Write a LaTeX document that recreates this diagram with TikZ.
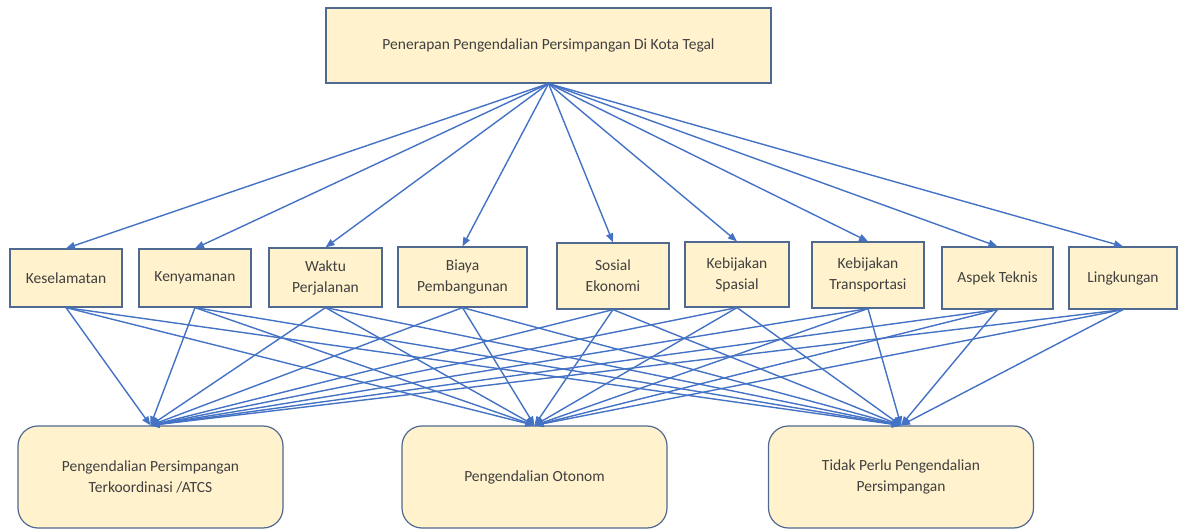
\documentclass[tikz,border=0pt]{standalone}
\usepackage{fontspec}
\setmainfont{Carlito}
\usetikzlibrary{arrows.meta}
\definecolor{boxfill}{RGB}{255,242,204}
\definecolor{boxline}{RGB}{80,105,145}
\definecolor{linkc}{RGB}{68,114,196}
\definecolor{textc}{RGB}{64,64,64}

\begin{document}
\begin{tikzpicture}[x=1pt, y=-1pt,
		kotak/.style={draw=boxline, line width=1.2pt, fill=boxfill, text=textc, align=center, inner sep=0pt, font=\fontsize{15.5}{21}\selectfont},
		alternatif/.style={kotak, rounded corners=20pt, minimum width=265pt, minimum height=102pt},
		panah/.style={-{Triangle[length=9pt, width=7pt]}, color=linkc, line width=1.4pt}]
		\useasboundingbox (0,0) rectangle (1179,529);
		
		\node[kotak, minimum width=445pt, minimum height=75pt] (n0) at (548.5,45.5) {Penerapan Pengendalian Persimpangan Di Kota Tegal};
		
		\node[kotak, minimum width=112pt, minimum height=58pt] (n1) at (66,278) {Keselamatan};
		\node[kotak, minimum width=112pt, minimum height=58pt] (n2) at (195,278) {Kenyamanan};
		\node[kotak, minimum width=113pt, minimum height=59pt] (n3) at (325.5,277.5) {Waktu\\Perjalanan};
		\node[kotak, minimum width=129pt, minimum height=60pt] (n4) at (462.5,277) {Biaya\\Pembangunan};
		\node[kotak, minimum width=112pt, minimum height=66pt] (n5) at (613,276) {Sosial\\Ekonomi};
		\node[kotak, minimum width=104pt, minimum height=65pt] (n6) at (737,274.5) {Kebijakan\\Spasial};
		\node[kotak, minimum width=112pt, minimum height=66pt] (n7) at (868,275) {Kebijakan\\Transportasi};
		\node[kotak, minimum width=111pt, minimum height=62pt] (n8) at (997.5,278) {Aspek Teknis};
		\node[kotak, minimum width=108pt, minimum height=62pt] (n9) at (1123,278) {Lingkungan};
		
		\node[alternatif] (a1) at (150.5,477) {Pengendalian Persimpangan\\Terkoordinasi /ATCS};
		\node[alternatif] (a2) at (534.5,477) {Pengendalian Otonom};
		\node[alternatif] (a3) at (901,477) {Tidak Perlu Pengendalian\\Persimpangan};
		
		\draw[panah] (n0.south) -- (n1.north);
		\draw[panah] (n0.south) -- (n2.north);
		\draw[panah] (n0.south) -- (n3.north);
		\draw[panah] (n0.south) -- (n4.north);
		\draw[panah] (n0.south) -- (n5.north);
		\draw[panah] (n0.south) -- (n6.north);
		\draw[panah] (n0.south) -- (n7.north);
		\draw[panah] (n0.south) -- (n8.north);
		\draw[panah] (n0.south) -- (n9.north);
		
		\draw[panah] (n1.south) -- (a1.north);
		\draw[panah] (n1.south) -- (a2.north);
		\draw[panah] (n1.south) -- (a3.north);
		\draw[panah] (n2.south) -- (a1.north);
		\draw[panah] (n2.south) -- (a2.north);
		\draw[panah] (n2.south) -- (a3.north);
		\draw[panah] (n3.south) -- (a1.north);
		\draw[panah] (n3.south) -- (a2.north);
		\draw[panah] (n3.south) -- (a3.north);
		\draw[panah] (n4.south) -- (a1.north);
		\draw[panah] (n4.south) -- (a2.north);
		\draw[panah] (n4.south) -- (a3.north);
		\draw[panah] (n5.south) -- (a1.north);
		\draw[panah] (n5.south) -- (a2.north);
		\draw[panah] (n5.south) -- (a3.north);
		\draw[panah] (n6.south) -- (a1.north);
		\draw[panah] (n6.south) -- (a2.north);
		\draw[panah] (n6.south) -- (a3.north);
		\draw[panah] (n7.south) -- (a1.north);
		\draw[panah] (n7.south) -- (a2.north);
		\draw[panah] (n7.south) -- (a3.north);
		\draw[panah] (n8.south) -- (a1.north);
		\draw[panah] (n8.south) -- (a2.north);
		\draw[panah] (n8.south) -- (a3.north);
		\draw[panah] (n9.south) -- (a1.north);
		\draw[panah] (n9.south) -- (a2.north);
		\draw[panah] (n9.south) -- (a3.north);
		\end{tikzpicture}
\end{document}
